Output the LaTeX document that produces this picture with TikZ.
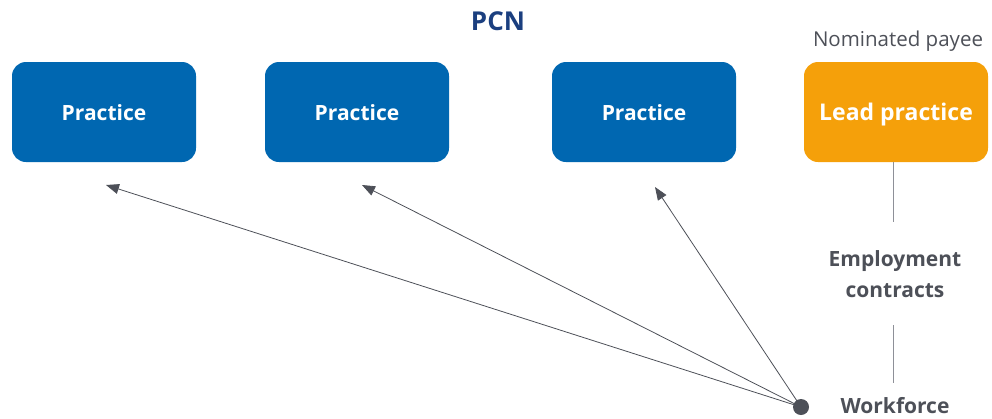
\documentclass[tikz,border=0pt]{standalone}
\usepackage{fontspec}
\setmainfont{Open Sans}
\usetikzlibrary{arrows.meta}
\definecolor{pcnblue}{HTML}{0067B1}
\definecolor{leadorange}{HTML}{F5A00A}
\definecolor{titleblue}{HTML}{1B3F7F}
\definecolor{textgray}{HTML}{4D5058}
\definecolor{linegray}{HTML}{8E9098}
\tikzset{
  practicebox/.style={draw=none, fill=pcnblue, rounded corners=14pt,
    minimum width=184pt, minimum height=100pt, text=white,
    text height=20pt, text depth=4pt,
    font=\fontsize{21}{24}\selectfont\bfseries},
  leadbox/.style={practicebox, fill=leadorange, font=\fontsize{23}{26}\selectfont\bfseries},
  graytext/.style={text=textgray, font=\fontsize{21}{31}\selectfont\bfseries, align=center},
  link/.style={draw=textgray, line width=0.8pt, -{Triangle[length=13pt,width=10pt]}}
}

\begin{document}
\begin{tikzpicture}[x=1pt,y=-1pt]
    \useasboundingbox (0,0) rectangle (992,418);

    % Title
    \node[text=titleblue, font=\fontsize{26}{30}\selectfont\bfseries] (pcn) at (498,21) {PCN};

    % Practices
    \node[practicebox] (p1) at (104,112) {Practice};
    \node[practicebox] (p2) at (357,112) {Practice};
    \node[practicebox] (p3) at (644,112) {Practice};
    \node[leadbox] (lead) at (896,112) {Lead practice};
    \node[text=textgray, font=\fontsize{20.5}{24}\selectfont] (payee) at (898,41) {Nominated payee};

    % Employment contracts column
    \node[graytext] (contracts) at (895,274) {Employment\\contracts};
    \node[graytext] (workforce) at (895,406) {Workforce};
    \coordinate (c1) at (893,222);
    \coordinate (c2) at (893,325);
    \coordinate (c3) at (893,383);
    \draw[linegray, line width=1pt] (lead.south -| c1) -- (c1);
    \draw[linegray, line width=1pt] (c2) -- (c3);

    % Workforce point and arrows
    \fill[textgray] (801,407) circle (8pt) coordinate (dot);
    \coordinate (t1) at (106,185);
    \coordinate (t2) at (362,185);
    \coordinate (t3) at (655,187);
    \foreach \t in {t1,t2,t3}
        \draw[link] (dot) -- (\t);
\end{tikzpicture}
\end{document}
